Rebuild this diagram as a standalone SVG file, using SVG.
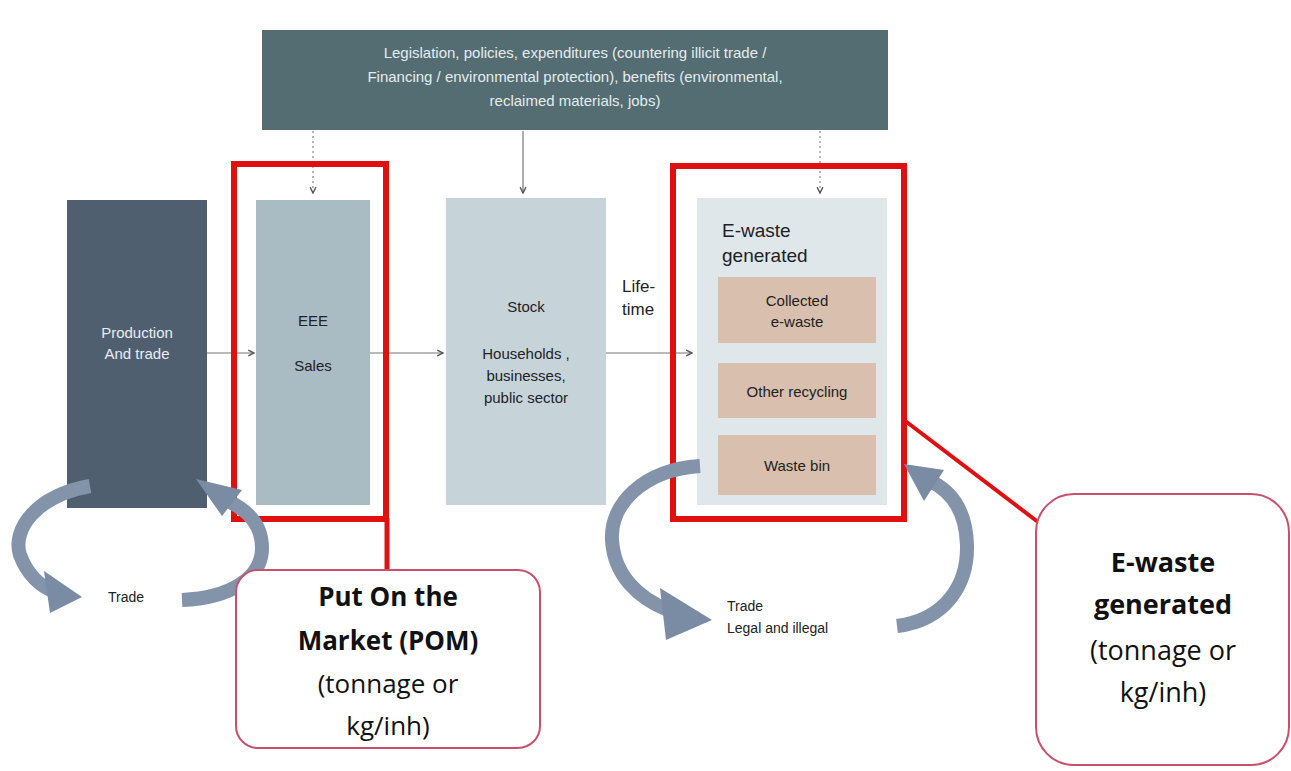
<svg xmlns="http://www.w3.org/2000/svg" width="1291" height="771" viewBox="0 0 1291 771">
<defs>
<style>
.t{font-family:"Liberation Sans",Arial,sans-serif;}
.c{font-family:"Open Sans","Liberation Sans",sans-serif;text-anchor:middle;fill:#111;}
.band{fill:none;stroke:#8394aa;stroke-width:14;}
.red{fill:none;stroke:#e01010;stroke-width:6;}
.call{fill:#fff;stroke:#c8506a;stroke-width:2;}
.ln{stroke:#777;stroke-width:1.2;fill:none;}
.dl{stroke:#888;stroke-width:1.2;stroke-dasharray:2 3;fill:none;}
</style>
<marker id="ah" viewBox="0 0 10 10" refX="9" refY="5" markerWidth="6" markerHeight="6" orient="auto">
<path d="M1,1 L9,5 L1,9" fill="none" stroke="#555" stroke-width="2"/>
</marker>
</defs>
<rect width="1291" height="771" fill="#fff"/>

<g id="policy">
<rect x="262" y="30" width="626" height="100" fill="#546d72"/>
<text class="t" x="575" y="58" font-size="15" fill="#e4ecee" text-anchor="middle">Legislation, policies, expenditures (countering illicit trade /</text>
<text class="t" x="575" y="82" font-size="15" fill="#e4ecee" text-anchor="middle">Financing / environmental protection), benefits (environmental,</text>
<text class="t" x="575" y="106" font-size="15" fill="#e4ecee" text-anchor="middle">reclaimed materials, jobs)</text>
</g>

<g id="connectors">
<line class="dl" x1="313" y1="131" x2="313" y2="193" marker-end="url(#ah)"/>
<line class="ln" x1="523" y1="131" x2="523" y2="193" marker-end="url(#ah)"/>
<line class="dl" x1="820" y1="131" x2="820" y2="193" marker-end="url(#ah)"/>
<line class="ln" x1="207" y1="353" x2="254" y2="353" marker-end="url(#ah)"/>
<line class="ln" x1="370" y1="353" x2="443" y2="353" marker-end="url(#ah)"/>
<line class="ln" x1="606" y1="353" x2="692" y2="353" marker-end="url(#ah)"/>
<line x1="387" y1="518" x2="387" y2="572" stroke="#e01010" stroke-width="5"/>
<line x1="904" y1="420" x2="1038" y2="522" stroke="#e01010" stroke-width="4"/>
</g>

<g id="production">
<rect x="67" y="200" width="140" height="308" fill="#4f5f70"/>
<text class="t" x="137" y="338" font-size="15" fill="#e8edf2" text-anchor="middle">Production</text>
<text class="t" x="137" y="359" font-size="15" fill="#e8edf2" text-anchor="middle">And trade</text>
</g>

<g id="eee">
<rect x="256" y="200" width="114" height="305" fill="#a9bbc3"/>
<text class="t" x="313" y="326" font-size="15" fill="#222" text-anchor="middle">EEE</text>
<text class="t" x="313" y="371" font-size="15" fill="#222" text-anchor="middle">Sales</text>
<rect class="red" x="234" y="164" width="152" height="355"/>
</g>

<g id="stock">
<rect x="446" y="198" width="160" height="307" fill="#c6d4da"/>
<text class="t" x="526" y="312" font-size="15" fill="#222" text-anchor="middle">Stock</text>
<text class="t" x="526" y="359" font-size="15" fill="#222" text-anchor="middle">Households ,</text>
<text class="t" x="526" y="381" font-size="15" fill="#222" text-anchor="middle">businesses,</text>
<text class="t" x="526" y="403" font-size="15" fill="#222" text-anchor="middle">public sector</text>
</g>

<g id="lifetime">
<text class="t" x="622" y="292" font-size="17" fill="#222">Life-</text>
<text class="t" x="622" y="315" font-size="17" fill="#222">time</text>
</g>

<g id="ewaste">
<rect x="697" y="198" width="190" height="307" fill="#e0e7eb"/>
<text class="t" x="722" y="237" font-size="19" fill="#222">E-waste</text>
<text class="t" x="722" y="262" font-size="19" fill="#222">generated</text>
<rect x="718" y="277" width="158" height="66" fill="#d8bfae"/>
<text class="t" x="797" y="306" font-size="15" fill="#222" text-anchor="middle">Collected</text>
<text class="t" x="797" y="327" font-size="15" fill="#222" text-anchor="middle">e-waste</text>
<rect x="718" y="363" width="158" height="55" fill="#d8bfae"/>
<text class="t" x="797" y="397" font-size="15" fill="#222" text-anchor="middle">Other recycling</text>
<rect x="718" y="435" width="158" height="60" fill="#d8bfae"/>
<text class="t" x="797" y="471" font-size="15" fill="#222" text-anchor="middle">Waste bin</text>
<rect class="red" x="673" y="166" width="231" height="353"/>
</g>

<g id="trade-left">
<path class="band" d="M90,486 C35,496 12,530 20,555 C28,576 40,586 55,592"/>
<polygon points="44,571 82,597 50,613" fill="#7a8ca4"/>
<path class="band" d="M182,600 C230,598 262,578 262,548 C262,526 250,512 230,502"/>
<polygon points="196,479 242,490 222,516" fill="#7a8ca4"/>
<text class="t" x="108" y="602" font-size="14" fill="#222">Trade</text>
</g>

<g id="trade-right">
<path class="band" d="M700,466 C642,470 610,505 612,540 C614,575 638,598 668,610"/>
<polygon points="660,588 712,620 666,640" fill="#7a8ca4"/>
<path class="band" d="M897,626 C945,620 968,585 967,545 C966,512 952,492 932,482"/>
<polygon points="904,464 944,470 924,501" fill="#7a8ca4"/>
<text class="t" x="727" y="611" font-size="14" fill="#222">Trade</text>
<text class="t" x="727" y="633" font-size="14" fill="#222">Legal and illegal</text>
</g>

<g id="pom">
<rect class="call" x="236" y="570" width="304" height="178" rx="22"/>
<text class="c" x="388" y="606" font-size="26" font-weight="bold">Put On the</text>
<text class="c" x="388" y="650" font-size="26" font-weight="bold">Market (POM)</text>
<text class="c" x="388" y="693" font-size="26">(tonnage or</text>
<text class="c" x="388" y="735" font-size="26">kg/inh)</text>
</g>

<g id="ewg">
<rect class="call" x="1036" y="494" width="253" height="271" rx="38"/>
<text class="c" x="1163" y="572" font-size="27" font-weight="bold">E-waste</text>
<text class="c" x="1163" y="614" font-size="27" font-weight="bold">generated</text>
<text class="c" x="1163" y="660" font-size="27">(tonnage or</text>
<text class="c" x="1163" y="702" font-size="27">kg/inh)</text>
</g>
</svg>
